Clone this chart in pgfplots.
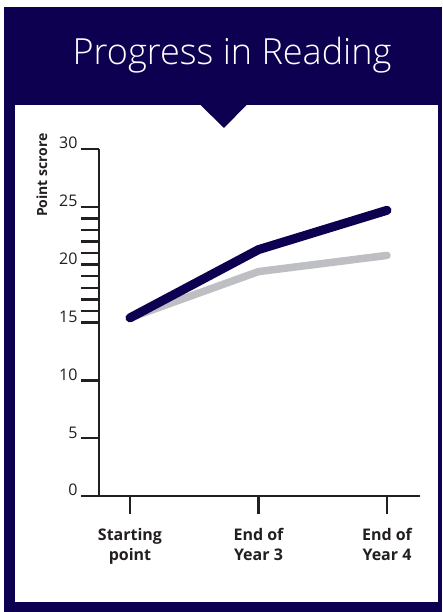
\documentclass[border=0pt]{standalone}
\usepackage{fontspec}
\setmainfont{Open Sans}
\newfontfamily\titlefont{Open Sans Light}
\usepackage{pgfplots}
\pgfplotsset{compat=1.18}
\definecolor{navy}{RGB}{14,0,80}
\definecolor{lgray}{RGB}{190,191,195}
\definecolor{ink}{RGB}{35,31,32}
\begin{document}
\begin{tikzpicture}[x=1pt,y=1pt]
\fill[white] (0,0) rectangle (442,612);
\fill[navy] (4,0) rectangle (442,605);
\fill[white] (15,10) rectangle (438,507);
\fill[navy] (200,507.5) -- (247,507.5) -- (224,484) -- cycle;
\node[text=white, font=\titlefont\fontsize{36}{40}\selectfont, anchor=base] at (232,547) {Progress in Reading};
\begin{axis}[
  at={(99pt,116pt)}, anchor=south west,
  scale only axis, width=321pt, height=347pt,
  xmin=-0.241, xmax=2.257, ymin=0, ymax=30,
  clip=false,
  axis lines*=left,
  axis line style={ink, line width=2.4pt},
  /pgf/number format/assume math mode=true,
  xtick={0,1,2},
  xticklabels={Starting\\point, End of\\Year 3, End of\\Year 4},
  xticklabel style={align=center, yshift=-11pt, font=\bfseries\fontsize{16}{20}\selectfont, text=ink},
  ytick={0,5,...,30},
  yticklabel style={anchor=base east, font=\fontsize{16}{18}\selectfont, text=ink},
  extra y ticks={16,17,18,19,21,22,23,24},
  extra y tick labels={},
  tick align=outside,
  major tick length=18pt,
  tick style={ink, line width=2.4pt},
  minor tick num=0,
  ylabel={Point scrore},
  ylabel style={at={(axis description cs:-0.178,0.925)}, anchor=center, font=\bfseries\fontsize{14}{16}\selectfont, text=ink},
]
\addplot[lgray, line width=7.5pt, line cap=round, line join=round] coordinates {(0,15.4) (1,19.4) (2,20.8)};
\addplot[navy, line width=9pt, line cap=round, line join=round] coordinates {(0,15.4) (1,21.3) (2,24.7)};
\end{axis}
\end{tikzpicture}
\end{document}
